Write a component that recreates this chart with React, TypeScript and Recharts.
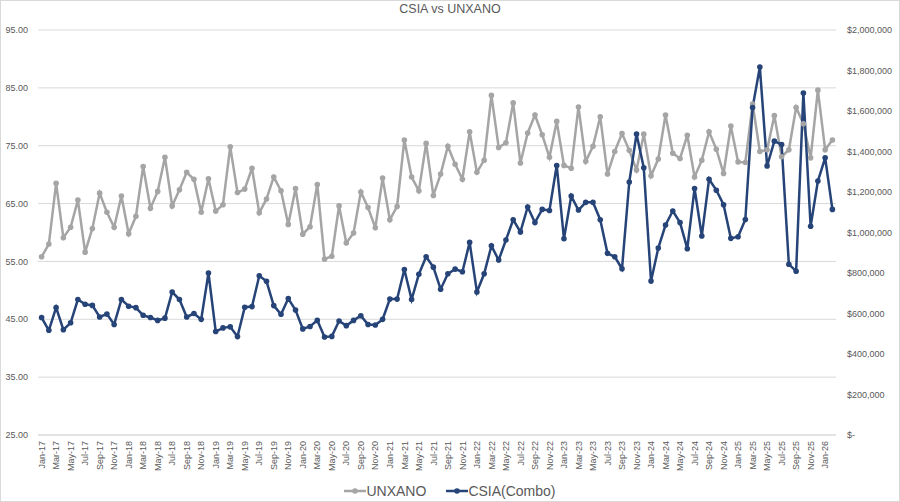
import { LineChart, Line, XAxis, YAxis, CartesianGrid, Legend } from "recharts";

const monthNames = ["Jan", "Feb", "Mar", "Apr", "May", "Jun", "Jul", "Aug", "Sep", "Oct", "Nov", "Dec"];
const years = ["17", "18", "19", "20", "21", "22", "23", "24", "25", "26"];

// Jan-17 .. Feb-26
const months: string[] = [];
years.forEach((y) => monthNames.forEach((m) => months.push(`${m}-${y}`)));
months.splice(110);

const unxano = [
  55.8, 58.0, 68.5, 59.1, 60.9, 65.6, 56.6, 60.7, 66.8, 63.5, 60.9, 66.3,
  59.8, 62.8, 71.4, 64.2, 67.1, 73.0, 64.6, 67.4, 70.4, 69.2, 63.5, 69.3,
  63.7, 64.8, 74.8, 66.9, 67.5, 71.1, 63.4, 65.8, 69.6, 67.2, 61.4, 67.6,
  59.7, 61.0, 68.3, 55.4, 55.9, 64.6, 58.2, 59.9, 67.0, 64.3, 60.8, 69.4,
  62.2, 64.5, 76.0, 69.6, 67.2, 75.4, 66.4, 70.1, 74.9, 71.8, 69.2, 77.4,
  70.4, 72.5, 83.7, 74.7, 75.5, 82.4, 72.0, 77.2, 80.3, 76.9, 73.0, 79.2,
  71.6, 71.1, 81.7, 72.3, 74.9, 80.0, 70.1, 74.0, 77.1, 74.2, 70.8, 77.0,
  69.8, 72.7, 80.3, 73.7, 72.8, 76.8, 69.6, 72.5, 77.4, 74.4, 70.2, 78.4,
  72.2, 72.1, 82.2, 74.0, 74.3, 80.2, 73.1, 74.3, 81.6, 78.8, 72.9, 84.6,
  74.3, 76.0,
];

const csia = [
  580000, 517000, 629000, 520000, 554000, 669000, 646000, 640000, 583000, 597000, 546000, 669000,
  636000, 629000, 591000, 580000, 566000, 577000, 706000, 669000, 583000, 600000, 571000, 800000,
  511000, 529000, 534000, 486000, 631000, 634000, 786000, 759000, 639000, 596000, 674000, 617000,
  524000, 536000, 566000, 484000, 487000, 563000, 540000, 566000, 589000, 546000, 543000, 571000,
  671000, 671000, 817000, 669000, 794000, 880000, 829000, 720000, 796000, 819000, 806000, 951000,
  706000, 796000, 934000, 864000, 963000, 1063000, 1003000, 1126000, 1049000, 1114000, 1109000, 1331000,
  969000, 1180000, 1111000, 1149000, 1149000, 1063000, 897000, 880000, 821000, 1249000, 1486000, 1320000,
  760000, 923000, 1037000, 1106000, 1049000, 920000, 1217000, 983000, 1263000, 1209000, 1137000, 971000,
  979000, 1064000, 1617000, 1817000, 1329000, 1451000, 1434000, 843000, 809000, 1689000, 1031000, 1254000,
  1369000, 1114000,
];

const leftTicks = [25, 35, 45, 55, 65, 75, 85, 95];
const rightTicks = [0, 200000, 400000, 600000, 800000, 1000000, 1200000, 1400000, 1600000, 1800000, 2000000];

const data = months.map((m, i) => ({ month: m, unxano: unxano[i], csia: csia[i] }));

const GRAY = "#A5A5A5";
const BLUE = "#264478";
const TEXT = "#595959";
const FONT = "'Liberation Sans', Arial, sans-serif";

const MonthTick = ({ x, y, payload }: any) => (
  <g transform={`translate(${x},${y})`}>
    <text
      x={0}
      y={0}
      dy="0.35em"
      textAnchor="end"
      transform="rotate(-90)"
      fontSize={9}
      fill={TEXT}
      fontFamily={FONT}
    >
      {payload.value}
    </text>
  </g>
);

const LegendContent = () => {
  const items = [
    { name: "UNXANO", color: GRAY },
    { name: "CSIA(Combo)", color: BLUE },
  ];
  return (
    <div style={{ display: "flex", justifyContent: "center", gap: 20, fontFamily: FONT, fontSize: 14, color: TEXT }}>
      {items.map((it) => (
        <div key={it.name} style={{ display: "flex", alignItems: "center" }}>
          <svg width={22} height={10}>
            <line x1={0} y1={5} x2={22} y2={5} stroke={it.color} strokeWidth={2.5} />
            <circle cx={11} cy={5} r={2.8} fill={it.color} />
          </svg>
          <span>{it.name}</span>
        </div>
      ))}
    </div>
  );
};

export default function App() {
  return (
    <div style={{ position: "fixed", left: 0, top: 0, width: 900, height: 502, background: "#fff" }}>
      <div
        style={{
          position: "absolute",
          top: 2,
          left: 0,
          width: 900,
          textAlign: "center",
          fontFamily: FONT,
          fontSize: 12.5,
          color: TEXT,
        }}
      >
        CSIA vs UNXANO
      </div>
      <LineChart width={900} height={502} data={data} margin={{ top: 30, right: 0, bottom: 0, left: 0 }}>
        <CartesianGrid vertical={false} stroke="#D9D9D9" yAxisId="left" />
        <XAxis
          dataKey="month"
          interval={1}
          height={67}
          tick={<MonthTick />}
          tickLine={false}
          tickMargin={0}
          axisLine={{ stroke: "#D9D9D9" }}
          padding={{ left: 3.6, right: 3.6 }}
        />
        <YAxis
          yAxisId="left"
          domain={[25, 95]}
          ticks={leftTicks}
          tickFormatter={(v: number) => v.toFixed(2)}
          axisLine={false}
          tickLine={false}
          width={38}
          tickMargin={4}
          tick={{ fontSize: 9, fill: TEXT, fontFamily: FONT }}
        />
        <YAxis
          yAxisId="right"
          orientation="right"
          domain={[0, 2000000]}
          ticks={rightTicks}
          tickFormatter={(v: number) => (v === 0 ? "$-" : "$" + v.toLocaleString("en-US"))}
          axisLine={false}
          tickLine={false}
          width={64}
          tickMargin={5}
          tick={{ fontSize: 9, fill: TEXT, fontFamily: FONT, textAnchor: "start" }}
        />
        <Legend
          layout="horizontal"
          verticalAlign="middle"
          align="center"
          wrapperStyle={{ position: "absolute", top: 483, left: 0, width: 900 }}
          content={<LegendContent />}
        />
        <Line
          yAxisId="left"
          dataKey="unxano"
          name="UNXANO"
          stroke={GRAY}
          strokeWidth={2.5}
          dot={{ r: 2.8, fill: GRAY, stroke: "none" }}
          isAnimationActive={false}
        />
        <Line
          yAxisId="right"
          dataKey="csia"
          name="CSIA(Combo)"
          stroke={BLUE}
          strokeWidth={2.5}
          dot={{ r: 2.8, fill: BLUE, stroke: "none" }}
          isAnimationActive={false}
        />
      </LineChart>
      <div
        style={{
          position: "absolute",
          left: 0,
          top: 0,
          width: 900,
          height: 502,
          boxSizing: "border-box",
          border: "1px solid #D9D9D9",
          pointerEvents: "none",
        }}
      />
    </div>
  );
}
